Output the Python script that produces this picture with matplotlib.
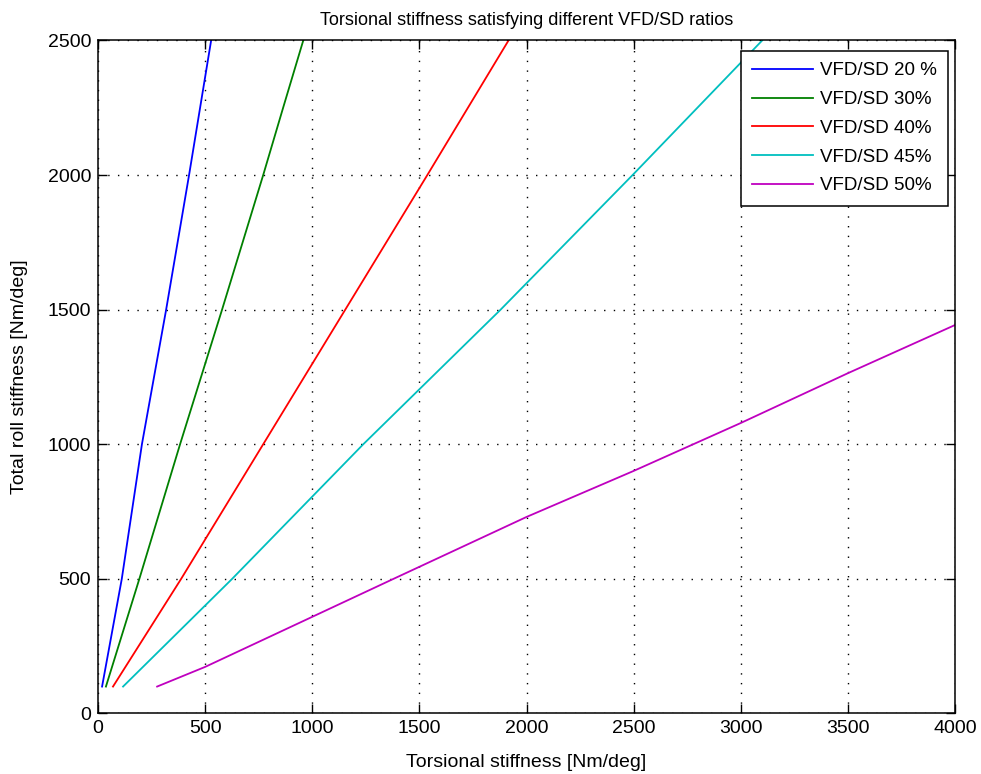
import matplotlib.pyplot as plt
import numpy as np

plt.rcParams['font.family'] = ['Liberation Sans', 'DejaVu Sans']

# total roll stiffness [Nm/deg] and the torsional stiffness needed for each ratio
roll_20 = [100, 500, 1000, 1500, 2000, 2500]
tors_20 = [19, 111, 205, 318, 425, 528]

roll_30 = [100, 500, 1000, 1500, 2000, 2250, 2500]
tors_30 = [37, 193, 383, 579, 771, 864, 958]

roll_40 = [100, 500, 1000, 1500, 2000, 2500]
tors_40 = [70, 388, 771, 1154, 1537, 1916]

roll_45 = [100, 500, 1000, 1500, 2000, 2500]
tors_45 = [117, 626, 1238, 1879, 2495, 3100]

roll_50 = [100, 173, 500, 730, 901, 1079, 1264, 1443]
tors_50 = [276, 500, 1379, 2000, 2500, 3000, 3500, 4000]

labels = ['VFD/SD 20 %', 'VFD/SD 30%', 'VFD/SD 40%', 'VFD/SD 45%', 'VFD/SD 50%']
colors = ['#0000ff', '#008000', '#ff0000', '#00bfbf', '#bf00bf']

fig = plt.figure(figsize=(9.81, 7.74), dpi=100)
ax = fig.add_axes([0.0999, 0.0782, 0.8736, 0.8695])

series = [(tors_20, roll_20), (tors_30, roll_30), (tors_40, roll_40),
          (tors_45, roll_45), (tors_50, roll_50)]
for (x, y), lab, c in zip(series, labels, colors):
    ax.plot(x, y, color=c, lw=1.3, label=lab)

ax.set_xlim(0, 4000)
ax.set_ylim(0, 2500)
ax.set_xticks(np.arange(0, 4001, 500))
ax.set_yticks(np.arange(0, 2501, 500))
ax.grid(True, color='black', linestyle=(0, (1, 6)), linewidth=1)
ax.tick_params(direction='in', length=6.5, width=1, top=True, right=True,
               labelsize=14, pad=5)
for s in ax.spines.values():
    s.set_linewidth(1.1)

ax.set_title('Torsional stiffness satisfying different VFD/SD ratios', fontsize=13, pad=11)
ax.set_xlabel('Torsional stiffness [Nm/deg]', fontsize=14, labelpad=12)
ax.set_ylabel('Total roll stiffness [Nm/deg]', fontsize=14, labelpad=14)

leg = ax.legend(loc='upper right', bbox_to_anchor=(0.9918, 0.9844), fontsize=13.5,
                fancybox=False, framealpha=1, edgecolor='black',
                handlelength=3.25, handletextpad=0.35, labelspacing=0.62,
                borderpad=0.6, borderaxespad=0)
leg.get_frame().set_linewidth(1.1)

fig.savefig('out.png', dpi=100)
